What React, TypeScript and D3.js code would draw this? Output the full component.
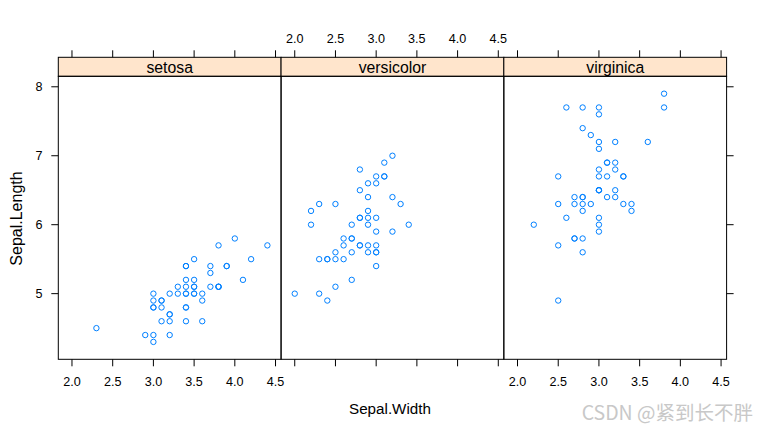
import React from "react";
import * as d3 from "d3";

const species = ["setosa", "versicolor", "virginica"];
// [Sepal.Width, Sepal.Length]
const setosaW = [3.5,3.0,3.2,3.1,3.6,3.9,3.4,3.4,2.9,3.1,3.7,3.4,3.0,3.0,4.0,4.4,3.9,3.5,3.8,3.8,3.4,3.7,3.6,3.3,3.4,3.0,3.4,3.5,3.4,3.2,3.1,3.4,4.1,4.2,3.1,3.2,3.5,3.6,3.0,3.4,3.5,2.3,3.2,3.5,3.8,3.0,3.8,3.2,3.7,3.3];
const setosaL = [5.1,4.9,4.7,4.6,5.0,5.4,4.6,5.0,4.4,4.9,5.4,4.8,4.8,4.3,5.8,5.7,5.4,5.1,5.7,5.1,5.4,5.1,4.6,5.1,4.8,5.0,5.0,5.2,5.2,4.7,4.8,5.4,5.2,5.5,4.9,5.0,5.5,4.9,4.4,5.1,5.0,4.5,4.4,5.0,5.1,4.8,5.1,4.6,5.3,5.0];
const versicolorW = [3.2,3.2,3.1,2.3,2.8,2.8,3.3,2.4,2.9,2.7,2.0,3.0,2.2,2.9,2.9,3.1,3.0,2.7,2.2,2.5,3.2,2.8,2.5,2.8,2.9,3.0,2.8,3.0,2.9,2.6,2.4,2.4,2.7,2.7,3.0,3.4,3.1,2.3,3.0,2.5,2.6,3.0,2.6,2.3,2.7,3.0,2.9,2.9,2.5,2.8];
const versicolorL = [7.0,6.4,6.9,5.5,6.5,5.7,6.3,4.9,6.6,5.2,5.0,5.9,6.0,6.1,5.6,6.7,5.6,5.8,6.2,5.6,5.9,6.1,6.3,6.1,6.4,6.6,6.8,6.7,6.0,5.7,5.5,5.5,5.8,6.0,5.4,6.0,6.7,6.3,5.6,5.5,5.5,6.1,5.8,5.0,5.6,5.7,5.7,6.2,5.1,5.7];
const virginicaW = [3.3,2.7,3.0,2.9,3.0,3.0,2.5,2.9,2.5,3.6,3.2,2.7,3.0,2.5,2.8,3.2,3.0,3.8,2.6,2.2,3.2,2.8,2.8,2.7,3.3,3.2,2.8,3.0,2.8,3.0,2.8,3.8,2.8,2.8,2.6,3.0,3.4,3.1,3.0,3.1,3.1,3.1,2.7,3.2,3.3,3.0,2.5,3.0,3.4,3.0];
const virginicaL = [6.3,5.8,7.1,6.3,6.5,7.6,4.9,7.3,6.7,7.2,6.5,6.4,6.8,5.7,5.8,6.4,6.5,7.7,7.7,6.0,6.9,5.6,7.7,6.3,6.7,7.2,6.2,6.1,6.4,7.2,7.4,7.9,6.4,6.3,6.1,7.7,6.3,6.4,6.0,6.9,6.7,6.9,5.8,6.8,6.7,6.7,6.3,6.5,6.2,5.9];
const xTicks = [2.0, 2.5, 3.0, 3.5, 4.0, 4.5];
const yTicks = [5, 6, 7, 8];

const panelData = [
  [setosaW, setosaL],
  [versicolorW, versicolorL],
  [virginicaW, virginicaL],
];

export default function App() {
  const W = 765, H = 430;
  const left = 58.3, right = 726.6;
  const stripTop = 57.3, panelTop = 76.3, bottom = 359.3;
  const pw = (right - left) / 3;
  const font = "'Liberation Sans', Arial, sans-serif";
  const xMin = 2.0, xMax = 4.4, yMin = 4.3, yMax = 7.9;
  const xPad = (xMax - xMin) * 0.07, yPad = (yMax - yMin) * 0.07;
  const y = d3.scaleLinear().domain([yMin - yPad, yMax + yPad]).range([bottom, panelTop]);
  const col = "#0080ff";
  const tl = 7;
  return (
    <svg width={W} height={H} style={{ position: "absolute", left: 0, top: 0 }} fontFamily={font}>
      <rect width={W} height={H} fill="white" />
      {species.map((sp, i) => {
        const x0 = left + i * pw;
        const x = d3.scaleLinear().domain([xMin - xPad, xMax + xPad]).range([x0, x0 + pw]);
        const [ws, ls] = panelData[i];
        return (
          <g key={sp}>
            <rect x={x0} y={stripTop} width={pw} height={panelTop - stripTop} fill="#ffe5cc" stroke="black" strokeWidth={1} />
            <text x={x0 + pw / 2} y={73.2} textAnchor="middle" fontSize={15.8}>{sp}</text>
            <rect x={x0} y={panelTop} width={pw} height={bottom - panelTop} fill="none" stroke="black" strokeWidth={1} />
            {xTicks.map((t) => (
              <g key={t}>
                <line x1={x(t)} x2={x(t)} y1={stripTop} y2={stripTop - tl} stroke="black" />
                <line x1={x(t)} x2={x(t)} y1={bottom} y2={bottom + tl} stroke="black" />
                {i === 1 ? (
                  <text x={x(t)} y={42.5} textAnchor="middle" fontSize={12.6}>{t.toFixed(1)}</text>
                ) : (
                  <text x={x(t)} y={386} textAnchor="middle" fontSize={12.6}>{t.toFixed(1)}</text>
                )}
              </g>
            ))}
            {ws.map((w, j) => (
              <circle key={j} cx={x(w)} cy={y(ls[j])} r={2.7} fill="none" stroke={col} strokeWidth={1} />
            ))}
          </g>
        );
      })}
      {yTicks.map((t) => (
        <g key={t}>
          <line x1={left - tl} x2={left} y1={y(t)} y2={y(t)} stroke="black" />
          <line x1={right} x2={right + tl} y1={y(t)} y2={y(t)} stroke="black" />
          <text x={42.5} y={y(t) + 4.5} textAnchor="end" fontSize={12.6}>{t}</text>
        </g>
      ))}
      <text transform={`translate(22,218.5) rotate(-90)`} textAnchor="middle" fontSize={16}>Sepal.Length</text>
      <text x={390} y={414} textAnchor="middle" fontSize={15.2}>Sepal.Width</text>
      <text x={753} y={420} textAnchor="end" fontSize={19.5} fill="#c8c8c8" fontFamily="'Noto Sans CJK SC', sans-serif">CSDN @紧到长不胖</text>
    </svg>
  );
}
